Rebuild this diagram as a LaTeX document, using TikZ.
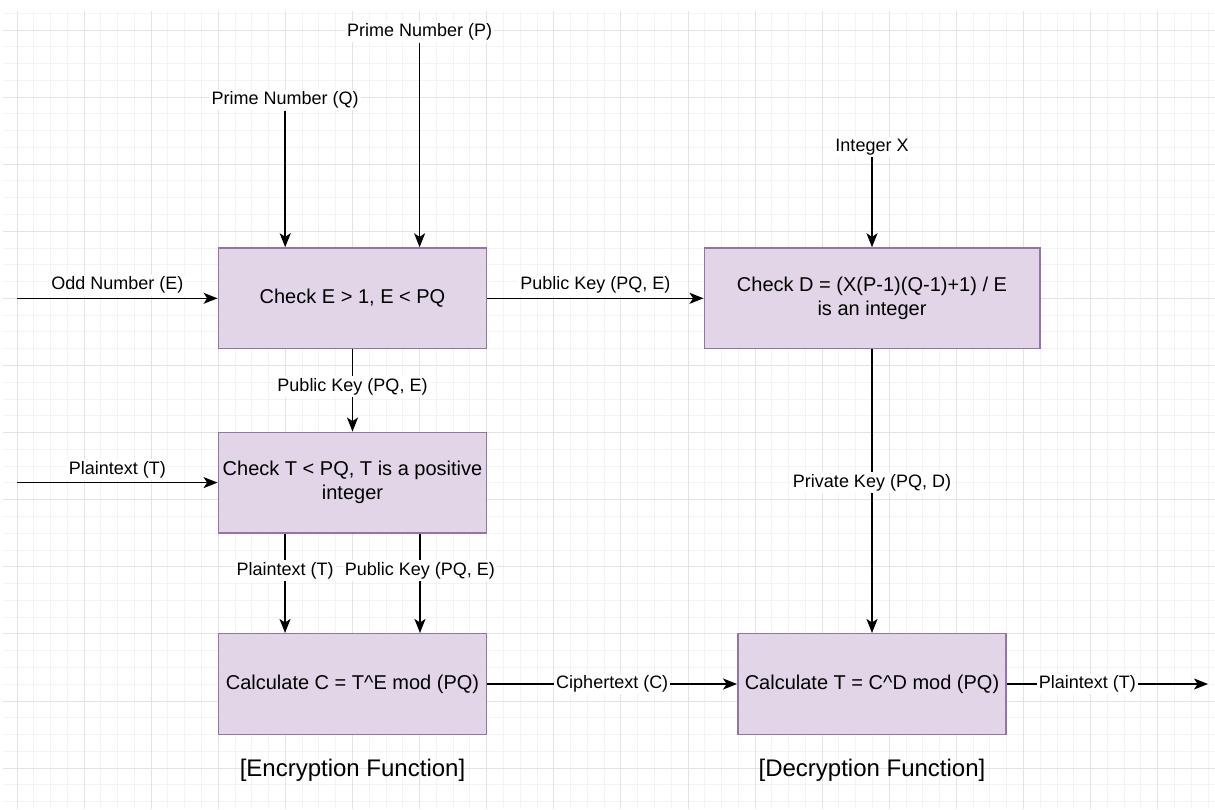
\documentclass[tikz,border=0pt]{standalone}
\usepackage{fontspec}
\setmainfont{Liberation Sans}
\usetikzlibrary{arrows.meta, positioning, calc}

\definecolor{boxfill}{HTML}{E1D5E7}
\definecolor{boxline}{HTML}{9673A6}
\definecolor{gridminor}{HTML}{F3F3F3}
\definecolor{gridmajor}{HTML}{E3E3E3}

\tikzstyle{block} = [rectangle, draw=boxline, fill=boxfill, line width=0.75pt, inner sep=1pt, minimum width=134.2pt, minimum height=50.3pt, align=center, font=\fontsize{10}{12}\selectfont]
\tikzstyle{lbl} = [fill=white, inner sep=1pt, font=\fontsize{9}{10.8}\selectfont]
\tikzstyle{title} = [font=\fontsize{12}{14.4}\selectfont]
\tikzstyle{arrow} = [line width=0.8pt, ->, >={Stealth[length=7pt, width=5.5pt, inset=1.8pt]}]

\begin{document}
\begin{tikzpicture}[x=0.5pt, y=-0.5pt]
    \useasboundingbox (0,0) rectangle (1215,809);
    \fill[white] (0,0) rectangle (1215,809);

    % background grid
    \begin{scope}
        \clip (3,11) rectangle (1215,809);
        \foreach \k in {-1,...,71}
            \draw[gridminor, line width=0.5pt] ({17+16.775*\k},11) -- ({17+16.775*\k},809);
        \foreach \k in {-1,...,46}
            \draw[gridminor, line width=0.5pt] (3,{30+16.775*\k}) -- (1215,{30+16.775*\k});
        \foreach \k in {0,...,17}
            \draw[gridmajor, line width=0.5pt] ({17+67.1*\k},11) -- ({17+67.1*\k},809);
        \foreach \k in {0,...,11}
            \draw[gridmajor, line width=0.5pt] (3,{30+67.1*\k}) -- (1215,{30+67.1*\k});
    \end{scope}

    % encryption side
    \node (chkE)  [block] at (352.5,298.3) {Check E > 1, E < PQ};
    \node (chkT)  [block] at (352.5,482.6) {Check T < PQ, T is a positive\\integer};
    \node (calcC) [block] at (352.5,684) {Calculate C = T\textasciicircum E mod (PQ)};

    % decryption side
    \node (chkD)  [block, minimum width=167.75pt] at (872,298.3) {Check D = (X(P-1)(Q-1)+1) / E\\is an integer};
    \node (calcT) [block] at (872,684) {Calculate T = C\textasciicircum D mod (PQ)};

    % inputs
    \node (lblP) [lbl] at (419.6,32)  {Prime Number (P)};
    \node (lblQ) [lbl] at (285.2,100) {Prime Number (Q)};
    \node (lblX) [lbl] at (872,147)   {Integer X};
    \coordinate (inE)  at (17,298.3);
    \coordinate (inT)  at (17,482.6);
    \coordinate (outT) at (1208,684);

    \draw [arrow] (lblP) -- (lblP |- chkE.north);
    \draw [arrow] (lblQ) -- (lblQ |- chkE.north);
    \draw [arrow] (lblX) -- (lblX |- chkD.north);
    \draw [arrow] (inE) -- (chkE) node[lbl, midway, above=1pt] {Odd Number (E)};
    \draw [arrow] (inT) -- (chkT) node[lbl, midway, above=1pt] {Plaintext (T)};

    \draw [arrow] (chkE) -- (chkD) node[lbl, midway, above=1pt] {Public Key (PQ, E)};
    \draw [arrow] (chkE) -- (chkT) node[lbl, pos=0.45] {Public Key (PQ, E)};
    \draw [arrow] ($(chkT.south west)!0.25!(chkT.south east)$) -- ($(calcC.north west)!0.25!(calcC.north east)$) node[lbl, pos=0.37] {Plaintext (T)};
    \draw [arrow] ($(chkT.south west)!0.75!(chkT.south east)$) -- ($(calcC.north west)!0.75!(calcC.north east)$) node[lbl, pos=0.37] {Public Key (PQ, E)};
    \draw [arrow] (calcC) -- (calcT) node[lbl, midway] {Ciphertext (C)};
    \draw [arrow] (chkD) -- (calcT) node[lbl, pos=0.47] {Private Key (PQ, D)};
    \draw [arrow] (calcT) -- (outT) node[lbl, pos=0.4] {Plaintext (T)};

    \node (encTitle) [title] at (352.5,770.5) {[Encryption Function]};
    \node (decTitle) [title] at (872,770.5)   {[Decryption Function]};
\end{tikzpicture}
\end{document}
